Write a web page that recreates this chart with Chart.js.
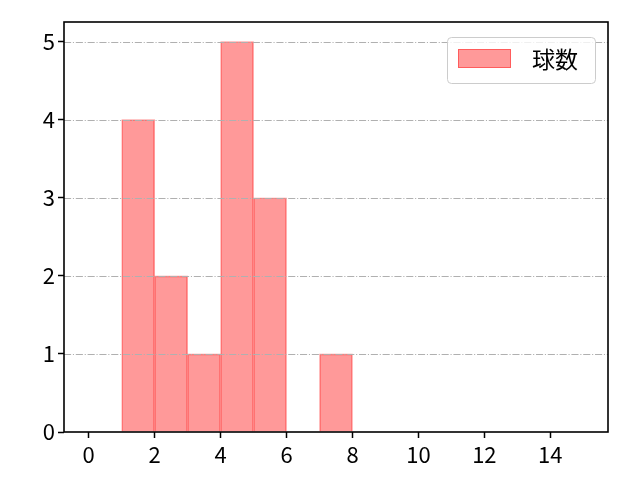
<!DOCTYPE html>
<html><head><meta charset="utf-8">
<script src="https://cdn.jsdelivr.net/npm/chart.js@4"></script>
<style>html,body{margin:0;padding:0;background:#fff}#wrap{width:640px;height:480px}</style>
</head><body><div id="wrap"><canvas id="c" width="640" height="480"></canvas></div>
<script>
const binCenters = [1.5, 2.5, 3.5, 4.5, 5.5, 7.5];
const counts = [4, 2, 1, 5, 3, 1];
const seriesLabel = '球数';
const xTicks = [0, 2, 4, 6, 8, 10, 12, 14];
const yTicks = [0, 1, 2, 3, 4, 5];

const FONT = '"Noto Sans CJK JP", "DejaVu Sans", sans-serif';

const overlay = {
  id: 'overlay',
  afterDatasetsDraw(chart) {
    const ctx = chart.ctx, a = chart.chartArea, ys = chart.scales.y;
    ctx.save();
    ctx.strokeStyle = '#b0b0b0';
    ctx.lineWidth = 1.1;
    ctx.setLineDash([7.1, 1.8, 1.1, 1.8]);
    yTicks.forEach(v => {
      if (v === 0) return;
      const py = Math.round(ys.getPixelForValue(v)) + 0.5;
      ctx.beginPath(); ctx.moveTo(a.left, py); ctx.lineTo(a.right, py); ctx.stroke();
    });
    ctx.setLineDash([]);
    ctx.strokeStyle = '#000';
    ctx.lineWidth = 1.6;
    ctx.strokeRect(a.left, a.top, a.right - a.left, a.bottom - a.top);
    // legend
    const bx = 447, by = 37, bw = 148, bh = 46, r = 4;
    ctx.fillStyle = 'rgba(255,255,255,0.8)';
    ctx.strokeStyle = '#cccccc';
    ctx.lineWidth = 1;
    ctx.beginPath();
    ctx.roundRect(bx + 0.5, by + 0.5, bw, bh, r);
    ctx.fill(); ctx.stroke();
    ctx.fillStyle = 'rgba(255,0,0,0.4)';
    ctx.fillRect(458, 49, 53, 19);
    ctx.strokeStyle = 'rgba(255,0,0,0.4)';
    ctx.strokeRect(458.5, 49.5, 52, 18);
    ctx.fillStyle = '#000';
    ctx.font = '23px ' + FONT;
    ctx.textBaseline = 'middle';
    ctx.textAlign = 'left';
    ctx.fillText(seriesLabel, 532, 59);
    ctx.restore();
  }
};

new Chart(document.getElementById('c'), {
  type: 'bar',
  data: {
    datasets: [{
      label: seriesLabel,
      data: binCenters.map((x, i) => ({x: x, y: counts[i]})),
      backgroundColor: 'rgba(255,0,0,0.4)',
      borderColor: 'rgba(255,0,0,0.4)',
      borderWidth: 1,
      barPercentage: 1,
      categoryPercentage: 1
    }]
  },
  options: {
    responsive: false,
    animation: false,
    devicePixelRatio: 1,
    layout: {padding: {top: 22, right: 32, left: 0, bottom: 0}},
    plugins: {legend: {display: false}, tooltip: {enabled: false}},
    scales: {
      x: {
        type: 'linear', offset: false, min: -0.75, max: 15.75,
        afterBuildTicks: s => { s.ticks = xTicks.map(v => ({value: v})); },
        afterFit: s => { s.height = 48; },
        grid: {display: true, offset: false, drawOnChartArea: false, drawTicks: true, tickLength: 6, tickColor: '#000', tickWidth: 1.5},
        border: {display: false},
        ticks: {color: '#000', font: {family: FONT, size: 22}, padding: 3, maxRotation: 0, autoSkip: false}
      },
      y: {
        min: 0, max: 5.25,
        afterBuildTicks: s => { s.ticks = yTicks.map(v => ({value: v})); },
        afterFit: s => { s.width = 64; },
        grid: {display: true, drawOnChartArea: false, drawTicks: true, tickLength: 6, tickColor: '#000', tickWidth: 1.5},
        border: {display: false},
        ticks: {color: '#000', font: {family: FONT, size: 22}, padding: 3}
      }
    }
  },
  plugins: [overlay]
});
</script></body></html>
